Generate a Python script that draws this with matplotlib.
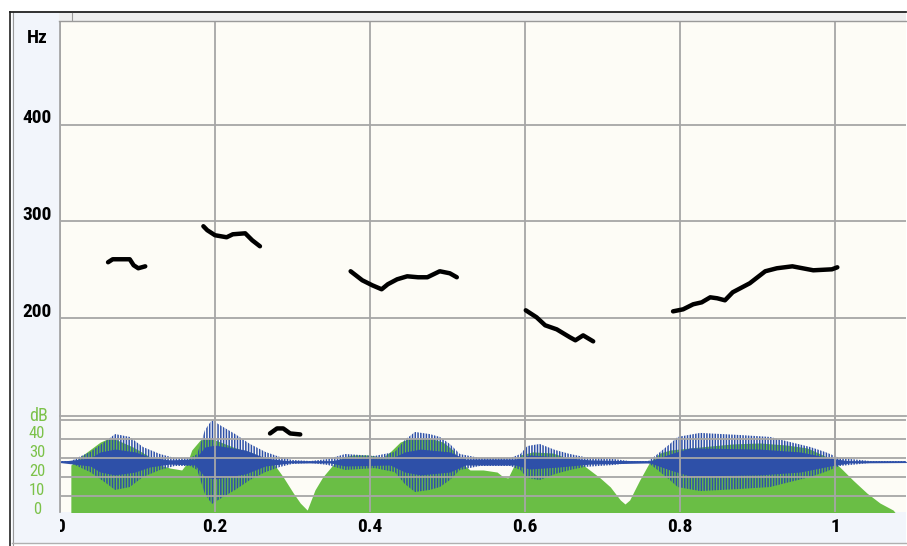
import numpy as np
import matplotlib
matplotlib.use("Agg")
import matplotlib.pyplot as plt
from matplotlib.patches import Rectangle
from matplotlib.lines import Line2D
from matplotlib.transforms import Bbox, TransformedBbox

plt.rcParams['font.family'] = ['Roboto Condensed', 'DejaVu Sans']

# pitch track [s, Hz], one list pair per voiced stretch
pitch_t = [
    [0.062, 0.068, 0.090, 0.095, 0.101, 0.110],
    [0.185, 0.190, 0.200, 0.215, 0.223, 0.239, 0.248, 0.258],
    [0.271, 0.280, 0.288, 0.297, 0.310],
    [0.375, 0.390, 0.403, 0.415, 0.423, 0.435, 0.448, 0.462, 0.474, 0.490, 0.503, 0.512],
    [0.601, 0.615, 0.626, 0.641, 0.658, 0.665, 0.675, 0.688],
    [0.791, 0.804, 0.817, 0.828, 0.839, 0.848, 0.858, 0.868, 0.890, 0.910, 0.925, 0.945, 0.972, 0.996, 1.003],
]
pitch_hz = [
    [257.9, 261.0, 261.0, 254.8, 251.7, 253.7],
    [295.1, 291.0, 285.8, 283.7, 286.8, 287.8, 280.6, 274.4],
    [81.1, 86.3, 86.3, 81.1, 80.1],
    [248.6, 239.3, 234.1, 230.0, 235.2, 240.3, 243.4, 242.4, 242.4, 248.6, 246.5, 242.4],
    [208.3, 201.0, 192.8, 188.6, 180.4, 177.3, 182.4, 176.2],
    [207.2, 209.3, 214.5, 216.5, 221.7, 220.7, 218.6, 226.9, 236.2, 248.6, 251.7, 253.7, 249.6, 250.6, 252.7],
]

# intensity envelope [s, dB]
env_t = [0.0, 0.014, 0.014, 0.026, 0.052, 0.061, 0.068, 0.094, 0.112, 0.129, 0.142, 0.157,
         0.164, 0.170, 0.181, 0.194, 0.223, 0.249, 0.275, 0.288, 0.301, 0.310, 0.319, 0.329,
         0.339, 0.352, 0.365, 0.378, 0.396, 0.417, 0.426, 0.439, 0.452, 0.477, 0.494, 0.507,
         0.516, 0.529, 0.546, 0.564, 0.572, 0.578, 0.585, 0.594, 0.610, 0.636, 0.654, 0.675,
         0.697, 0.710, 0.723, 0.729, 0.735, 0.748, 0.761, 0.774, 0.787, 0.826, 0.868, 0.903,
         0.938, 0.964, 0.990, 1.006, 1.023, 1.041, 1.058, 1.075, 1.080, 1.092]
env_db = [0.0, 0.0, 26.3, 30.5, 38.4, 40.0, 40.5, 35.8, 31.6, 26.3, 24.7, 23.7,
          27.4, 34.2, 39.5, 40.5, 35.8, 32.6, 27.4, 20.0, 11.6, 6.3, 2.6, 13.2,
          20.0, 26.3, 30.5, 31.6, 31.6, 30.5, 33.2, 38.4, 40.5, 40.5, 38.4, 34.2,
          27.9, 23.7, 23.7, 22.6, 20.0, 19.5, 25.3, 31.6, 33.2, 32.6, 30.0, 26.3,
          19.5, 14.8, 7.9, 5.8, 7.9, 18.4, 27.9, 32.6, 34.2, 35.8, 37.4, 37.9,
          36.8, 35.3, 30.5, 25.3, 18.4, 11.6, 6.3, 2.6, 0.0, 0.0]

# waveform drawn around its zero line, half-widths in dB-panel units
wave_zero = 27.9
peak_t = [0.000, 0.015, 0.019, 0.039, 0.061, 0.071, 0.090, 0.107, 0.129, 0.148, 0.168, 0.177,
          0.187, 0.196, 0.206, 0.226, 0.245, 0.265, 0.284, 0.299, 0.323, 0.346, 0.368, 0.406,
          0.432, 0.445, 0.458, 0.477, 0.490, 0.503, 0.516, 0.542, 0.581, 0.594, 0.603, 0.619,
          0.639, 0.658, 0.677, 0.714, 0.735, 0.759, 0.768, 0.787, 0.797, 0.826, 0.877, 0.916,
          0.942, 0.968, 0.987, 1.006, 1.032, 1.045, 1.092]
peak_amp = [0.5, 0.5, 1.6, 5.3, 11.6, 14.7, 13.2, 7.9, 4.2, 2.1, 2.1, 4.2,
            16.8, 22.1, 19.5, 14.7, 9.5, 5.3, 2.6, 1.1, 0.5, 1.6, 4.2, 3.2,
            5.3, 11.6, 15.8, 14.7, 13.2, 9.5, 4.2, 2.1, 2.1, 4.2, 8.4, 9.5,
            6.3, 4.2, 2.6, 1.6, 0.5, 0.5, 3.2, 9.5, 13.2, 15.3, 14.2, 13.2,
            10.5, 7.9, 5.3, 2.1, 1.1, 0.5, 0.5]
core_t = [0.000, 0.039, 0.052, 0.071, 0.097, 0.116, 0.142, 0.174, 0.187, 0.200, 0.239, 0.265,
          0.297, 0.348, 0.368, 0.426, 0.445, 0.465, 0.503, 0.523, 0.587, 0.606, 0.645, 0.684,
          0.761, 0.787, 0.813, 0.903, 0.955, 0.994, 1.019, 1.092]
core_amp = [0.3, 2.1, 5.3, 6.8, 5.3, 2.6, 1.1, 1.6, 7.9, 8.9, 6.3, 2.1,
            0.5, 0.5, 2.1, 1.6, 5.3, 6.8, 5.3, 1.6, 1.6, 3.7, 2.6, 1.1,
            0.5, 4.2, 7.4, 6.8, 5.3, 2.1, 0.5, 0.3]

x_ticks = [0, 0.2, 0.4, 0.6, 0.8, 1]
x_labels = ["0", "0.2", "0.4", "0.6", "0.8", "1"]
hz_ticks = [200, 300, 400]
db_ticks = [0, 10, 20, 30, 40]
db_grid = [10, 20, 30, 40, 50]

W, H = 907, 546
BG = "#fdfcf6"
PANEL = "#f2f5fb"
GRID = "#a6a6a6"
GREEN = "#6abe45"
BLUE = "#2e50a8"
LBL_GREEN = "#7cc24a"

def fx(x):
    return x / W

def fy(y):
    return 1 - y / H

fig = plt.figure(figsize=(W / 100, H / 100), dpi=100)
fig.patch.set_facecolor("white")

# window chrome
fig.add_artist(Rectangle((fx(12), fy(543)), fx(906) - fx(12), fy(12) - fy(543),
                         transform=fig.transFigure, facecolor=PANEL, edgecolor="none", zorder=-2))
fig.add_artist(Rectangle((fx(59), fy(21)), fx(906) - fx(59), fy(12) - fy(21),
                         transform=fig.transFigure, facecolor="#efefef", edgecolor="none", zorder=-1))
for xs, ys, c, lw in [([10, 10], [12, 546], "#333333", 1.3),
                      ([12.5, 12.5], [12, 546], "#9a9a9a", 0.8),
                      ([10, 906], [12, 12], "#222222", 1.3),
                      ([59, 906], [21, 21], "#9a9a9a", 1.0),
                      ([12, 906], [543, 543], "#b0b0b0", 1.0),
                      ([72, 72], [13, 20], "#9a9a9a", 0.8)]:
    fig.add_artist(Line2D([fx(v) for v in xs], [fy(v) for v in ys], color=c, lw=lw,
                          transform=fig.transFigure))

# pitch panel (Hz)
ax = fig.add_axes([fx(60), fy(512), fx(906) - fx(60), fy(22) - fy(512)])
ax.set_facecolor(BG)
ax.set_xlim(0, 1.0916)
ax.set_ylim(0, 506)
for t, hz in zip(pitch_t, pitch_hz):
    ax.plot(t, hz, color="black", lw=3.2, solid_capstyle="round", solid_joinstyle="round", zorder=3)
ax.set_xticks(x_ticks)
ax.set_xticklabels(x_labels, fontsize=14, fontweight="bold")
ax.set_yticks(hz_ticks)
ax.set_yticklabels([])
ax.tick_params(length=0)
ax.tick_params(axis="x", pad=4)
ax.grid(True, color=GRID, lw=1.3)
for s in ["top", "right", "bottom"]:
    ax.spines[s].set_visible(False)
ax.spines["left"].set_color(GRID)
ax.spines["left"].set_linewidth(1.3)
for v in hz_ticks:
    ax.text(-0.027, v + 6.5, str(v), transform=ax.get_yaxis_transform(), fontsize=14,
            fontweight="bold", ha="center", va="center", clip_on=False)
zero_lbl = ax.get_xticklabels()[0]
zero_lbl.set_clip_box(TransformedBbox(Bbox([[fx(60), 0], [1, 1]]), fig.transFigure))
zero_lbl.set_clip_on(True)
fig.text(fx(37), fy(38), "Hz", fontsize=14, fontweight="bold", ha="center", va="center")

# intensity / waveform panel (dB)
ax2 = fig.add_axes([fx(60), fy(512), fx(906) - fx(60), fy(416) - fy(512)])
ax2.patch.set_visible(False)
ax2.set_xlim(0, 1.0916)
ax2.set_ylim(1.58, 52.1)
ax2.fill_between(env_t, 0, env_db, color=GREEN, lw=0, zorder=1)
pt = np.array(peak_t)
pa = np.array(peak_amp)
ct = np.array(core_t)
ca = np.array(core_amp)
plt.rcParams['hatch.linewidth'] = 1.1
ax2.fill_between(pt, wave_zero - pa, wave_zero + pa, facecolor="none", edgecolor=BLUE,
                 hatch="||||||", lw=0, zorder=2)
ax2.fill_between(ct, wave_zero - ca, wave_zero + ca, color=BLUE, lw=0, zorder=2)
ax2.axhline(wave_zero, color=BLUE, lw=1.1, zorder=2)
ax2.set_xticks(x_ticks)
ax2.set_yticks(db_grid)
ax2.set_axisbelow(False)
ax2.grid(True, color=GRID, lw=1.3, zorder=3)
ax2.tick_params(length=0, labelbottom=False, labelleft=False)
for s in ["left", "right", "bottom"]:
    ax2.spines[s].set_visible(False)
ax2.spines["top"].set_color(GRID)
ax2.spines["top"].set_linewidth(1.3)
for v in db_ticks:
    ax2.text(-0.027, v + 2.9, str(v), transform=ax2.get_yaxis_transform(), color=LBL_GREEN,
             fontsize=12, ha="center", va="center", clip_on=False)
fig.text(fx(38), fy(416), "dB", color=LBL_GREEN, fontsize=13, ha="center", va="center")

fig.savefig("out.png", dpi=100)
